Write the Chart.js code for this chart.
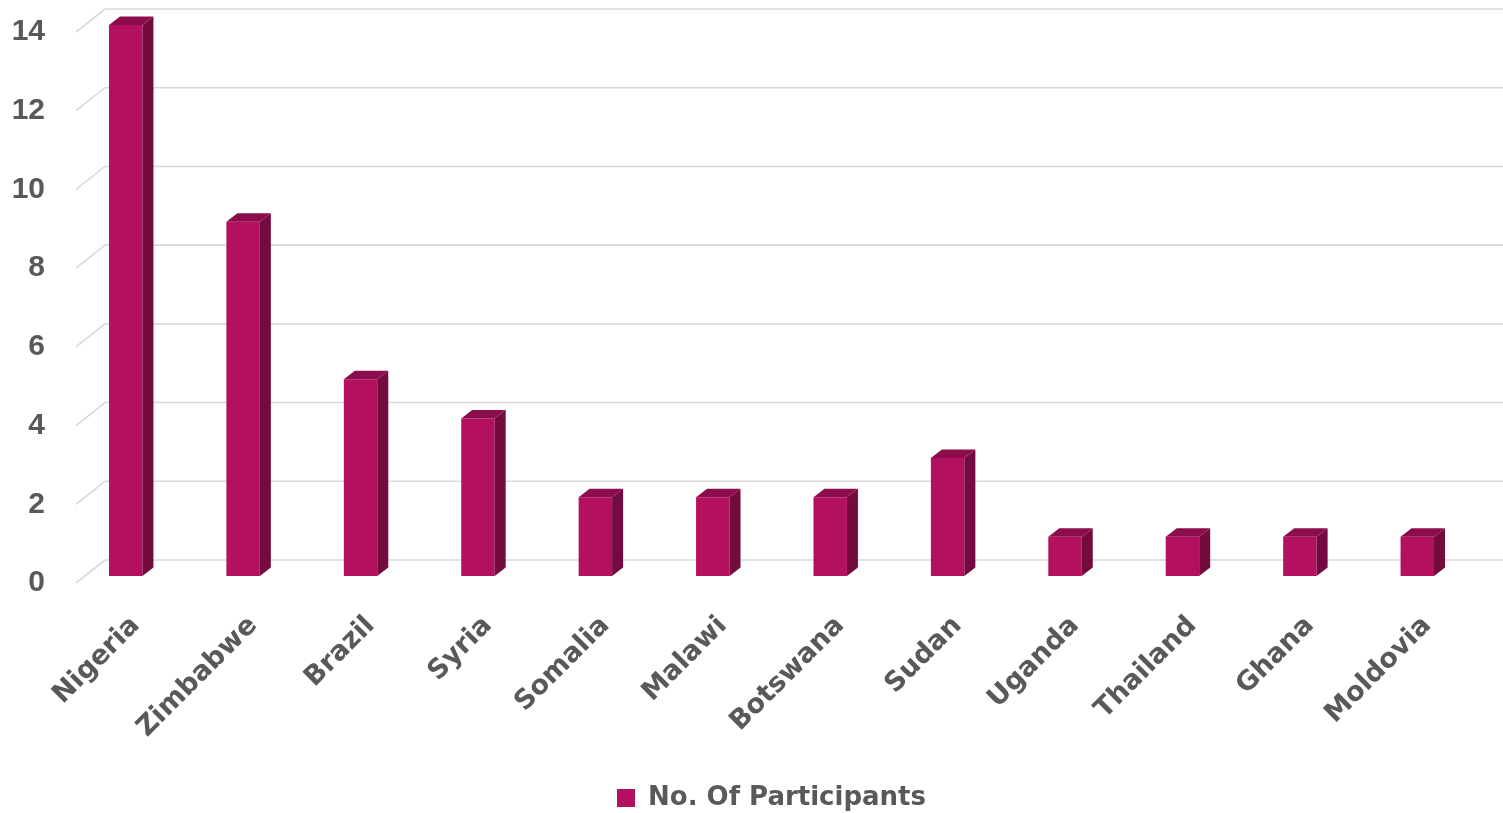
<!DOCTYPE html>
<html>
<head>
<meta charset="utf-8">
<script src="https://cdn.jsdelivr.net/npm/chart.js@4.4.1/dist/chart.umd.min.js"></script>
<style>
  html, body { margin: 0; padding: 0; background: #fff; }
  #wrap { width: 1503px; height: 813px; position: relative; }
</style>
</head>
<body>
<div id="wrap"><canvas id="chart"></canvas></div>
<script>
const COUNTRIES = ["Nigeria", "Zimbabwe", "Brazil", "Syria", "Somalia", "Malawi",
  "Botswana", "Sudan", "Uganda", "Thailand", "Ghana", "Moldovia"];
const PARTICIPANTS = [14, 9, 5, 4, 2, 2, 2, 3, 1, 1, 1, 1];
const Y_TICKS = [0, 2, 4, 6, 8, 10, 12, 14];

const FRONT = '#b3115f';
const SIDE = '#730b3e';
const TOP = '#8c0d4b';
const TEXT = '#595959';

// back wall grid lines, drawn with a little perspective on the left
const wallGrid = {
  id: 'wallGrid',
  beforeDatasetsDraw(chart) {
    const { ctx, chartArea, scales: { y } } = chart;
    ctx.save();
    ctx.strokeStyle = '#d9d9d9';
    ctx.lineWidth = 1.6;
    Y_TICKS.forEach(v => {
      const py = y.getPixelForValue(v);
      ctx.beginPath();
      ctx.moveTo(chartArea.left + 9, py + 7);
      ctx.lineTo(chartArea.left + 38, py - 16);
      ctx.lineTo(chart.width, py - 16);
      ctx.stroke();
    });
    ctx.restore();
  }
};

// side and top faces for the 3d look
const barDepth = {
  id: 'barDepth',
  afterDatasetsDraw(chart) {
    const { ctx } = chart;
    const dx = 11, dy = 8.5;
    chart.getDatasetMeta(0).data.forEach(bar => {
      const { x, y, base, width } = bar.getProps(['x', 'y', 'base', 'width'], true);
      const l = x - width / 2, r = x + width / 2;
      ctx.save();
      ctx.fillStyle = SIDE;
      ctx.beginPath();
      ctx.moveTo(r, y);
      ctx.lineTo(r + dx, y - dy);
      ctx.lineTo(r + dx, base - dy);
      ctx.lineTo(r, base);
      ctx.closePath();
      ctx.fill();
      ctx.fillStyle = TOP;
      ctx.beginPath();
      ctx.moveTo(l, y);
      ctx.lineTo(l + dx, y - dy);
      ctx.lineTo(r + dx, y - dy);
      ctx.lineTo(r, y);
      ctx.closePath();
      ctx.fill();
      ctx.restore();
    });
  }
};

new Chart(document.getElementById('chart'), {
  type: 'bar',
  data: {
    labels: COUNTRIES,
    datasets: [{
      label: 'No. Of Participants',
      data: PARTICIPANTS,
      backgroundColor: FRONT,
      borderWidth: 0,
      categoryPercentage: 1,
      barPercentage: 0.285,
    }]
  },
  options: {
    responsive: true,
    maintainAspectRatio: false,
    animation: false,
    layout: { padding: { top: 25, right: 27, left: 0, bottom: -8 } },
    scales: {
      x: {
        grid: { display: false, drawTicks: false },
        border: { display: false },
        ticks: {
          color: TEXT,
          font: { family: 'DejaVu Sans', size: 27, weight: 'bold' },
          minRotation: 45,
          maxRotation: 45,
          padding: 34,
          labelOffset: 10,
        },
        afterFit(scale) { scale.height = 207; }
      },
      y: {
        min: 0,
        max: 14,
        grid: { display: false, drawTicks: false },
        border: { display: false },
        ticks: {
          stepSize: 2,
          color: TEXT,
          font: { family: 'Liberation Sans', size: 30, weight: 'bold' },
          padding: 22,
          labelOffset: 7,
        },
        afterFit(scale) {
          scale.width = 67;
          scale.paddingTop = 0;
          scale.paddingBottom = 0;
        }
      }
    },
    plugins: {
      legend: {
        position: 'bottom',
        fullSize: false,
        labels: {
          color: TEXT,
          font: { family: 'DejaVu Sans', size: 26, weight: 'bold' },
          boxWidth: 18,
          boxHeight: 18,
          padding: 2,
        }
      },
      tooltip: { enabled: false }
    }
  },
  plugins: [wallGrid, barDepth]
});
</script>
</body>
</html>
